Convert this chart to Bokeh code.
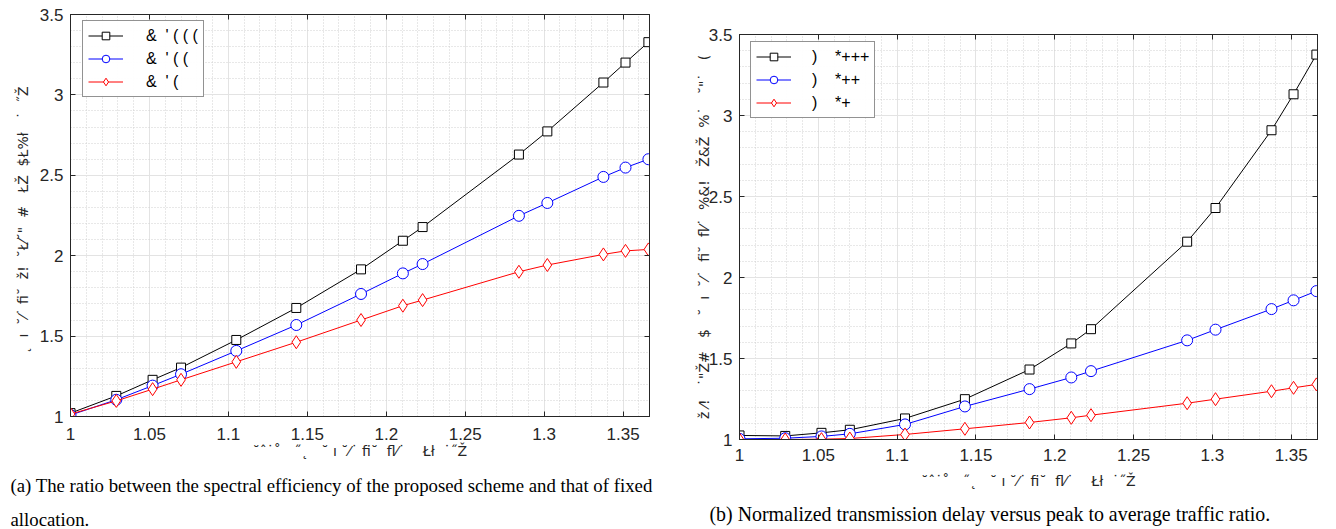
from bokeh.plotting import figure
from bokeh.layouts import row
from bokeh.models import (Range1d, SingleIntervalTicker, NumeralTickFormatter, Legend, LegendItem,
                          LinearAxis, Title)
from bokeh.embed import file_html
from bokeh.resources import INLINE

# ---------------- data ----------------
x_ratio = [1.0, 1.029, 1.052, 1.070, 1.105, 1.143, 1.184, 1.2105, 1.223, 1.284, 1.302, 1.3375, 1.3515, 1.366]

# (a) spectral efficiency ratio
a_black = [1.021, 1.128, 1.228, 1.304, 1.476, 1.675, 1.915, 2.093, 2.178, 2.629, 2.773, 3.077, 3.201, 3.328]
a_blue  = [1.009, 1.104, 1.192, 1.263, 1.408, 1.569, 1.762, 1.890, 1.948, 2.248, 2.328, 2.490, 2.548, 2.600]
a_red   = [1.015, 1.097, 1.170, 1.228, 1.340, 1.462, 1.600, 1.689, 1.724, 1.900, 1.942, 2.008, 2.030, 2.039]

# (b) normalized transmission delay
b_black = [1.025, 1.022, 1.041, 1.060, 1.130, 1.249, 1.432, 1.593, 1.681, 2.221, 2.429, 2.909, 3.131, 3.376]
b_blue  = [1.004, 1.008, 1.019, 1.035, 1.093, 1.204, 1.311, 1.383, 1.422, 1.612, 1.678, 1.805, 1.859, 1.916]
b_red   = [1.000, 1.000, 1.002, 1.006, 1.031, 1.066, 1.105, 1.134, 1.150, 1.224, 1.249, 1.298, 1.319, 1.340]

a_labels = ["&  ' ( ( (", "&  ' ( (", "&  ' ("]
b_labels = [")    *+++", ")    *++", ")    *+"]

x_label = "˘ˆ˙˚   ˝˛   ˘ ı ˘⁄˙ ﬁ˘  ﬂ⁄˙    Łł  ˙˝Ž"
a_ylabel = "  ˛  ı  ˘⁄˙ ﬁ˘  ž!  ˘Ł⁄˘\"  #   ŁŽ  $Ł%ł   ˙  ˝Ž    "
b_ylabel = "ž ⁄!   ˙\"Ž#   $   ˘  ı  ˘⁄˙  ﬁ˘  ﬂ⁄˙  %&!   Ž&Ž  %˙   ˘\"˙   ("

cap_a1 = "(a) The ratio between the spectral efficiency of the proposed scheme and that of fixed"
cap_a2 = "allocation."
cap_b = "(b) Normalized transmission delay versus peak to average traffic ratio."

colors = ["#000000", "#0000FF", "#FF0000"]
markers = ["square", "circle", "diamond"]
msizes = [9, 11, 13]

TICK_FONT = "Liberation Sans"
LAB_FONT = "DejaVu Sans"
CAP_FONT = "Liberation Serif"
AX_COL = "#262626"

X0, X1, Y0, Y1 = 1.0, 1.3667, 1.0, 3.5


def nb(s):
    return s.replace(" ", "\u00a0")


def style_axis(ax, labels=True):
    ax.axis_line_color = AX_COL
    ax.major_tick_in = 5
    ax.major_tick_out = 0
    ax.minor_tick_in = 0
    ax.minor_tick_out = 0
    ax.major_tick_line_color = AX_COL
    ax.major_label_text_font = TICK_FONT
    if labels:
        ax.major_label_text_font_size = "17px"
        ax.major_label_text_color = AX_COL
    else:
        ax.major_label_text_font_size = "1px"
        ax.major_label_text_color = None
        ax.major_label_standoff = 0


def make_fig(fw, fh, bl, br, bt, bb, ys, labels, ylabel, legend_loc, xl_std, yl_std, xt_std, leg_std):
    p = figure(frame_width=fw, frame_height=fh, title=None, output_backend="svg", toolbar_location=None,
               x_range=Range1d(X0, X1), y_range=Range1d(Y0, Y1),
               min_border_left=bl, min_border_right=br, min_border_top=bt, min_border_bottom=bb)
    p.outline_line_color = AX_COL
    p.outline_line_width = 1
    p.background_fill_color = "white"
    p.border_fill_color = "white"

    xt = SingleIntervalTicker(interval=0.05, num_minor_ticks=5)
    yt = SingleIntervalTicker(interval=0.5, num_minor_ticks=5)
    p.xaxis.ticker = xt
    p.yaxis.ticker = yt
    p.xaxis.formatter = NumeralTickFormatter(format="0.[00]")
    p.yaxis.formatter = NumeralTickFormatter(format="0.[0]")
    for ax in (p.xaxis, p.yaxis):
        style_axis(ax)
        ax.axis_label_text_font = LAB_FONT
        ax.axis_label_text_font_size = "14px"
        ax.axis_label_text_font_style = "normal"
        ax.axis_label_text_color = AX_COL
    p.xaxis.major_label_standoff = xt_std
    p.yaxis.major_label_standoff = 7
    p.xaxis.axis_label = nb(x_label)
    p.yaxis.axis_label = nb(ylabel)
    p.xaxis.axis_label_standoff = xl_std
    p.yaxis.axis_label_standoff = yl_std

    # box ticks on top and right (MATLAB style)
    top = LinearAxis(ticker=xt)
    style_axis(top, labels=False)
    right = LinearAxis(ticker=yt)
    style_axis(right, labels=False)
    p.add_layout(top, "above")
    p.add_layout(right, "right")

    for g in (p.xgrid, p.ygrid):
        g.grid_line_color = "#e3e3e3"
        g.grid_line_width = 1
        g.minor_grid_line_color = "#d0d0d0"
        g.minor_grid_line_dash = "1 2"
        g.minor_grid_line_width = 1

    items = []
    for yv, c, m, s, lab in zip(ys, colors, markers, msizes, labels):
        r1 = p.line(x_ratio, yv, line_color=c, line_width=1)
        r2 = p.scatter(x_ratio, yv, marker=m, size=s, line_color=c, fill_color="white", line_width=1)
        items.append(LegendItem(label=nb(lab), renderers=[r1, r2]))

    leg = Legend(items=items, location=legend_loc)
    leg.label_text_font = TICK_FONT
    leg.label_text_font_size = "16px"
    leg.label_text_color = "#000000"
    leg.border_line_color = AX_COL
    leg.border_line_width = 1
    leg.glyph_width = 35
    leg.glyph_height = 19
    leg.label_height = 19
    leg.label_standoff = leg_std
    leg.spacing = 4
    leg.padding = 5
    leg.margin = 0
    p.add_layout(leg)
    return p


def caption(p, text, offset, standoff, size):
    t = Title(text=text, align="left", offset=offset, standoff=standoff,
              text_font=CAP_FONT, text_font_size=size, text_font_style="normal",
              text_color="#000000")
    p.add_layout(t, "below")


# left: frame 70..649 x 14..416
p1 = make_fig(579, 402, 70, 42, 14, 113, [a_black, a_blue, a_red], a_labels, a_ylabel, (12, 319),
              xl_std=0, yl_std=6, xt_std=11, leg_std=23)
caption(p1, cap_a1, -60, 22, "18.8px")
caption(p1, cap_a2, -60, 0, "18.8px")

# right: frame 739..1317 x 34..439 (shifted down by a 20px margin)
p2 = make_fig(578, 405, 48, 15, 14, 90, [b_black, b_blue, b_red], b_labels, b_ylabel, (11, 321),
              xl_std=9, yl_std=-6, xt_std=9, leg_std=21)
p2.margin = (20, 0, 0, 0)
caption(p2, cap_b, -30, 19, "19.9px")

layout = row(p1, p2)
open("out.html", "w").write(file_html(layout, INLINE))
